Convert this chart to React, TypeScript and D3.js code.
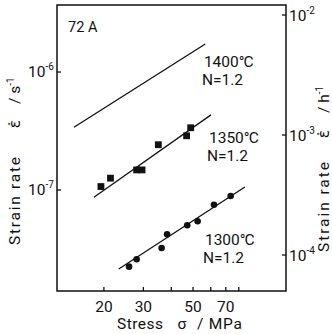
import React from "react";
import * as d3 from "d3";

// Stress in MPa, strain rate in s^-1
const sq1350X = [19.4, 21.4, 28.0, 29.6, 35.0, 46.8, 48.8];
const sq1350Y = [1.07e-7, 1.26e-7, 1.48e-7, 1.48e-7, 2.42e-7, 2.88e-7, 3.37e-7];
const ci1300X = [25.9, 28.0, 36.2, 38.3, 47.1, 52.4, 62.0, 73.6];
const ci1300Y = [2.24e-8, 2.59e-8, 3.22e-8, 4.21e-8, 5.03e-8, 5.43e-8, 7.51e-8, 8.89e-8];
const line1400X = [14.7, 56.7];
const line1400Y = [3.4e-7, 1.73e-6];
const line1350X = [18.05, 60.1];
const line1350Y = [8.67e-8, 4.33e-7];
const line1300X = [23.3, 85.2];
const line1300Y = [2.14e-8, 1.06e-7];

const xTicks = [20, 30, 40, 50, 60, 70, 80];
const xTickLabels = [20, 30, 50, 70];
const yLeftTicks = [1e-6, 1e-7];
const yLeftExp = ["-6", "-7"];
const yRightTicks = [1e-2, 1e-3, 1e-4];
const yRightExp = ["-2", "-3", "-4"];

const seriesLabels = [
  { t: "1400", x: 55.9, y: 1.1e-6 },
  { t: "1350", x: 58.9, y: 2.5e-7 },
  { t: "1300", x: 56.5, y: 3.42e-8 },
];

const L = 57, R = 286, T = 5, B = 291;
const FONT = "Roboto, 'DejaVu Sans', sans-serif";

export default function App() {
  const x = d3.scaleLog().domain([12.35, 130]).range([L, R]);
  const y = d3.scaleLog().domain([Math.pow(10, -7.856), Math.pow(10, -5.432)]).range([B, T]);
  const yR = d3.scaleLog().domain([Math.pow(10, -4.3), Math.pow(10, -1.9167)]).range([B, T]);
  const line = d3.line<[number, number]>().x(d => x(d[0])).y(d => y(d[1]));
  const mk = (xs: number[], ys: number[]) => xs.map((v, i) => [v, ys[i]] as [number, number]);
  const stroke = "#111";
  const fs = 15.5;
  return (
    <svg width={332} height={334} style={{ position: "absolute", left: 0, top: 0, background: "#fff" }} fontFamily={FONT}>
      <rect x={L} y={T} width={R - L} height={B - T} fill="none" stroke={stroke} strokeWidth={1.5} />
      {xTicks.map(t => (
        <line key={"xt" + t} x1={x(t)} x2={x(t)} y1={B} y2={B - 4} stroke={stroke} strokeWidth={1.3} />
      ))}
      {xTickLabels.map(t => (
        <text key={"xl" + t} x={x(t)} y={312} textAnchor="middle" fontSize={fs} fill={stroke}>{t}</text>
      ))}
      {yLeftTicks.map((t, i) => (
        <g key={"yl" + i}>
          <line x1={L} x2={L + 4} y1={y(t)} y2={y(t)} stroke={stroke} strokeWidth={1.3} />
          <text x={28} y={y(t) + 5} fontSize={fs} fill={stroke}>10<tspan dy={-7} fontSize={10}>{yLeftExp[i]}</tspan></text>
        </g>
      ))}
      {yRightTicks.map((t, i) => (
        <g key={"yr" + i}>
          <line x1={R} x2={R - 4} y1={yR(t)} y2={yR(t)} stroke={stroke} strokeWidth={1.3} />
          <text x={289} y={yR(t) + 6} fontSize={fs} fill={stroke}>10<tspan dy={-7} fontSize={10}>{yRightExp[i]}</tspan></text>
        </g>
      ))}
      <path d={line(mk(line1400X, line1400Y)) || ""} fill="none" stroke={stroke} strokeWidth={1.3} />
      <path d={line(mk(line1350X, line1350Y)) || ""} fill="none" stroke={stroke} strokeWidth={1.3} />
      <path d={line(mk(line1300X, line1300Y)) || ""} fill="none" stroke={stroke} strokeWidth={1.3} />
      {sq1350X.map((v, i) => (
        <rect key={"s" + i} x={x(v) - 3.4} y={y(sq1350Y[i]) - 3.4} width={6.8} height={6.8} fill={stroke} />
      ))}
      {ci1300X.map((v, i) => (
        <circle key={"c" + i} cx={x(v)} cy={y(ci1300Y[i])} r={3.3} fill={stroke} />
      ))}
      {seriesLabels.map((s, i) => (
        <g key={"lab" + i}>
          <text x={x(s.x)} y={y(s.y)} fontSize={fs} fill={stroke}>
            {s.t}<tspan fontSize={fs} letterSpacing={-1}>°</tspan>C
          </text>
          <text x={x(s.x) - 2} y={y(s.y) + 18} fontSize={fs} fill={stroke}>N=1.2</text>
        </g>
      ))}
      <text x={68} y={32} fontSize={14.5} fill={stroke}>72 A</text>
      <text x={117} y={329} fontSize={fs} fill={stroke} textLength={46} lengthAdjust="spacing">Stress</text>
      <text x={182} y={329} textAnchor="middle" fontSize={fs} fill={stroke}>σ</text>
      <text x={197} y={329} fontSize={fs} fill={stroke} textLength={45} lengthAdjust="spacing">/ MPa</text>

      <text transform="translate(20,245) rotate(-90)" fontSize={fs} fill={stroke} textLength={88} lengthAdjust="spacing">Strain rate</text>
      <text transform="translate(20,124) rotate(-90)" textAnchor="middle" fontSize={fs} fill={stroke}>ε̇</text>
      <text transform="translate(20,104) rotate(-90)" fontSize={fs} fill={stroke}>/ s<tspan dy={-6} fontSize={10}>-1</tspan></text>

      <text transform="translate(329,252) rotate(-90)" fontSize={fs} fill={stroke} textLength={90} lengthAdjust="spacing">Strain rate</text>
      <text transform="translate(329,134) rotate(-90)" textAnchor="middle" fontSize={fs} fill={stroke}>ε̇</text>
      <text transform="translate(329,113) rotate(-90)" fontSize={fs} fill={stroke}>/ h<tspan dy={-6} fontSize={10}>-1</tspan></text>
    </svg>
  );
}
